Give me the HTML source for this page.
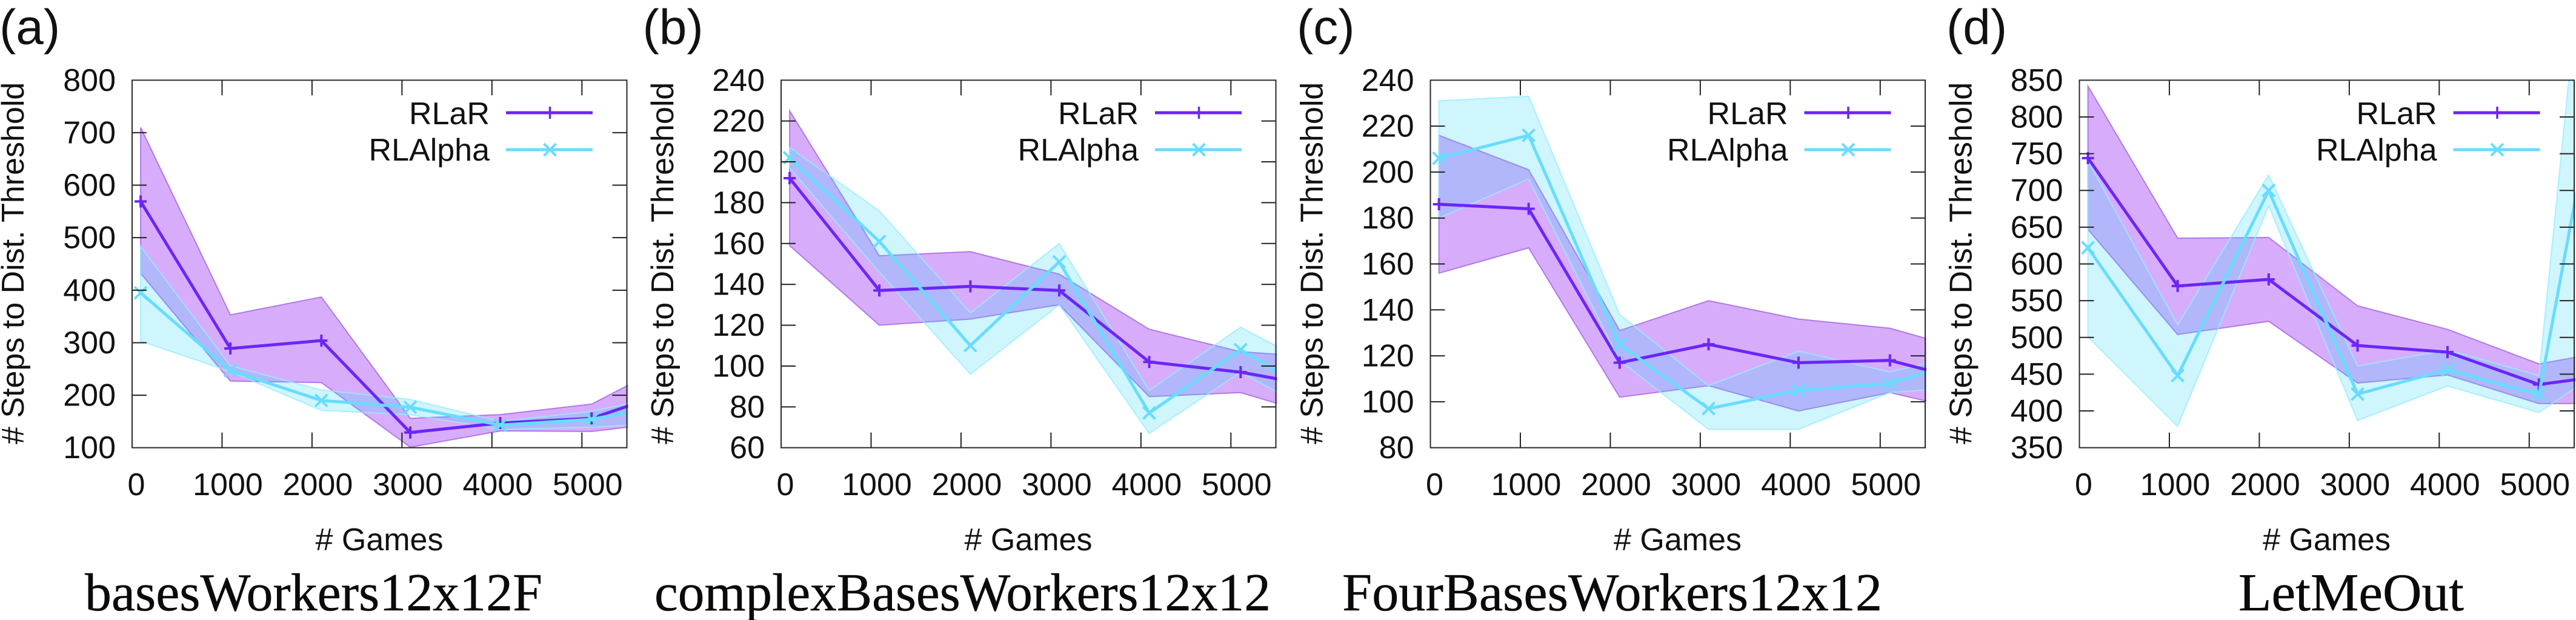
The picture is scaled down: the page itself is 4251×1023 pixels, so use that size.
<!DOCTYPE html>
<html lang="en">
<head>
<meta charset="utf-8">
<title>Steps to Distance Threshold vs Games</title>
<style>
html,body{margin:0;padding:0;background:#fff;}
svg{display:block;}
text{font-family:"Liberation Sans",sans-serif;font-size:52px;fill:#111;}
.panel-tag{font-size:82px;}
.caption{font-family:"Liberation Serif",serif;font-size:88px;fill:#0a0a0a;stroke:#0a0a0a;stroke-width:0.5px;}
</style>
</head>
<body>
<svg id="figure" xmlns="http://www.w3.org/2000/svg" width="4251" height="1023" viewBox="0 0 4251 1023">
  <rect width="4251" height="1023" fill="#fff"/>

  <g id="panel-a" transform="translate(218,132.3)">
    <text class="panel-tag" x="-219" y="-59.7">(a)</text>
    <text transform="translate(-179,600.7) rotate(-90)">#&#160;Steps to Dist. Threshold</text>
    <text x="408" y="775.7" text-anchor="middle">#&#160;Games</text>
    <text x="590" y="72.7" text-anchor="end">RLaR</text>
    <text x="590" y="132.7" text-anchor="end">RLAlpha</text>
  </g>
  <g id="panel-b" transform="translate(1289,132.3)">
    <text class="panel-tag" x="-228.5" y="-59.7">(b)</text>
    <text transform="translate(-178,600.7) rotate(-90)">#&#160;Steps to Dist. Threshold</text>
    <text x="408" y="775.7" text-anchor="middle">#&#160;Games</text>
    <text x="590" y="72.7" text-anchor="end">RLaR</text>
    <text x="590" y="132.7" text-anchor="end">RLAlpha</text>
  </g>
  <g id="panel-c" transform="translate(2360.5,132.3)">
    <text class="panel-tag" x="-220.5" y="-59.7">(c)</text>
    <text transform="translate(-178,600.7) rotate(-90)">#&#160;Steps to Dist. Threshold</text>
    <text x="408" y="775.7" text-anchor="middle">#&#160;Games</text>
    <text x="590" y="72.7" text-anchor="end">RLaR</text>
    <text x="590" y="132.7" text-anchor="end">RLAlpha</text>
  </g>
  <g id="panel-d" transform="translate(3431.5,132.3)">
    <text class="panel-tag" x="-219.5" y="-59.7">(d)</text>
    <text transform="translate(-178,600.7) rotate(-90)">#&#160;Steps to Dist. Threshold</text>
    <text x="408" y="775.7" text-anchor="middle">#&#160;Games</text>
    <text x="590" y="72.7" text-anchor="end">RLaR</text>
    <text x="590" y="132.7" text-anchor="end">RLAlpha</text>
  </g>

  <text class="caption" x="140" y="1007" textLength="755" lengthAdjust="spacingAndGlyphs">basesWorkers12x12F</text>
  <text class="caption" x="1080" y="1007" textLength="1017" lengthAdjust="spacingAndGlyphs">complexBasesWorkers12x12</text>
  <text class="caption" x="2215" y="1007" textLength="891" lengthAdjust="spacingAndGlyphs">FourBasesWorkers12x12</text>
  <text class="caption" x="3694" y="1007" textLength="372" lengthAdjust="spacingAndGlyphs">LetMeOut</text>
</svg>

<script>
// Shared x categories and ticks
const games = [95, 1092, 2104, 3092, 4092, 5108, 6100];
const xTicks = [0, 1000, 2000, 3000, 4000, 5000];
const xDomainMax = 5500;

// Panel (a)
const aYTicks = [100, 200, 300, 400, 500, 600, 700, 800];
const aRlarMean = [569, 289, 304, 129, 147, 156, 213];
const aRlarUpper = [710, 353, 387, 156, 163, 183, 271];
const aRlarLower = [432, 227, 224, 101, 132, 131, 151];
const aAlphaMean = [395, 247, 190, 177, 143, 154, 188];
const aAlphaUpper = [483, 256, 210, 192, 150, 169, 206];
const aAlphaLower = [303, 245, 171, 163, 135, 139, 149];

// Panel (b)
const bYTicks = [60, 80, 100, 120, 140, 160, 180, 200, 220, 240];
const bRlarMean = [192, 137, 139, 137, 102, 97, 89];
const bRlarUpper = [225, 154, 156, 145, 118, 107, 104];
const bRlarLower = [159, 120, 123, 130, 85, 87, 74];
const bAlphaMean = [202, 161, 110, 151, 77, 108, 82];
const bAlphaUpper = [207, 176, 126, 160, 88, 119, 96];
const bAlphaLower = [197, 146, 96, 130, 67, 97, 73];

// Panel (c)
const cYTicks = [80, 100, 120, 140, 160, 180, 200, 220, 240];
const cRlarMean = [186, 184, 117, 125, 117, 118, 108];
const cRlarUpper = [216, 201, 131, 144, 136, 132, 121];
const cRlarLower = [156, 167, 102, 107, 96, 104, 95];
const cAlphaMean = [206, 216, 125, 97, 105, 108, 120];
const cAlphaUpper = [231, 233, 138, 107, 122, 113, 122];
const cAlphaLower = [180, 197, 118, 88, 88, 104, 107];

// Panel (d)
const dYTicks = [350, 400, 450, 500, 550, 600, 650, 700, 750, 800, 850];
const dRlarMean = [744, 570, 579, 489, 480, 436, 452];
const dRlarUpper = [842, 635, 636, 543, 511, 464, 486];
const dRlarLower = [647, 504, 522, 438, 449, 410, 410];
const dAlphaMean = [622, 448, 700, 423, 456, 422, 1074];
const dAlphaUpper = [740, 517, 721, 461, 483, 448, 1650];
const dAlphaLower = [501, 379, 679, 387, 434, 398, 480];

const SVG_NS = 'http://www.w3.org/2000/svg';
const PLOT_W = 816.5;
const PLOT_H = 606.4;
const PURPLE = '#6c25f8';
const CYAN = '#68dcff';

function make(tag, parent, attrs) {
  const node = document.createElementNS(SVG_NS, tag);
  for (const k in attrs) node.setAttribute(k, attrs[k]);
  parent.appendChild(node);
  return node;
}

function xAxis(v) {
  return v / xDomainMax * PLOT_W;
}

function drawBand(layer, xs, upper, lower, yAxis, fill, edge, opacity, label) {
  const top = xs.map((x, i) => xAxis(x) + ',' + yAxis(upper[i]));
  const bottom = xs.map((x, i) => xAxis(x) + ',' + yAxis(lower[i])).reverse();
  const band = make('polygon', layer, {
    points: top.concat(bottom).join(' '),
    fill: fill, 'fill-opacity': opacity, stroke: edge, 'stroke-width': 2, 'stroke-opacity': 0.8
  });
  
  
}

function drawLine(layer, xs, values, yAxis, color, label) {
  const line = make('polyline', layer, {
    points: xs.map((x, i) => xAxis(x) + ',' + yAxis(values[i])).join(' '),
    fill: 'none', stroke: color, 'stroke-width': 5, 'stroke-linejoin': 'round'
  });
  
  
}

function markerPath(cx, cy, kind) {
  const r = 10;
  if (kind === 'plus') {
    return 'M' + (cx - r) + ' ' + cy + 'H' + (cx + r) + 'M' + cx + ' ' + (cy - r) + 'V' + (cy + r);
  }
  return 'M' + (cx - r) + ' ' + (cy - r) + 'L' + (cx + r) + ' ' + (cy + r) +
         'M' + (cx - r) + ' ' + (cy + r) + 'L' + (cx + r) + ' ' + (cy - r);
}

function drawMarkers(layer, xs, values, yAxis, color, kind, label) {
  xs.forEach((x, i) => {
    const mark = make('path', layer, {
      d: markerPath(xAxis(x), yAxis(values[i]), kind),
      fill: 'none', stroke: color, 'stroke-width': 4
    });
    
    
  });
}

function drawLegend(group, row, color, kind, label) {
  const y = row === 0 ? 53.7 : 114.7;
  const line = make('line', group, {
    x1: 617, x2: 760, y1: y, y2: y, stroke: color, 'stroke-width': 5
  });
  
  
  const mark = make('path', group, {
    d: markerPath(689.5, y, kind), fill: 'none', stroke: color, 'stroke-width': kind === 'plus' ? 3.5 : 4
  });
  
  
}

function drawPanel(id, yTicks, rMean, rUp, rLow, aMean, aUp, aLow) {
  const group = document.getElementById('panel-' + id);
  const yMin = yTicks[0];
  const yMax = yTicks[yTicks.length - 1];
  const yAxis = v => PLOT_H - (v - yMin) / (yMax - yMin) * PLOT_H;

  const defs = make('defs', group, {});
  const clip = make('clipPath', defs, { id: 'clip-' + id });
  make('rect', clip, { x: 0, y: 0, width: PLOT_W + 2, height: PLOT_H });

  const layer = make('g', group, { 'clip-path': 'url(#clip-' + id + ')' });
  
  

  drawBand(layer, games, rUp, rLow, yAxis, '#9b32f5', '#a460ea', 0.4, 'band-rlar-' + id);
  drawBand(layer, games, aUp, aLow, yAxis, '#40d8f8', '#98ecff', 0.25, 'band-rlalpha-' + id);
  drawLine(layer, games, rMean, yAxis, PURPLE, 'line-rlar-' + id);
  drawMarkers(layer, games, rMean, yAxis, PURPLE, 'plus', 'point-rlar-' + id);
  drawLine(layer, games, aMean, yAxis, CYAN, 'line-rlalpha-' + id);
  drawMarkers(layer, games, aMean, yAxis, CYAN, 'cross', 'point-rlalpha-' + id);

  yTicks.forEach(t => {
    const y = yAxis(t);
    if (t !== yMin && t !== yMax) {
      const tickL = make('line', group, { x1: 0, x2: 24, y1: y, y2: y, stroke: '#222', 'stroke-width': 2 });
      
      
      const tickR = make('line', group, { x1: PLOT_W - 24, x2: PLOT_W, y1: y, y2: y, stroke: '#222', 'stroke-width': 2 });
      
      
    }
    const label = make('text', group, { x: -27, y: y + 17.5, 'text-anchor': 'end' });
    label.textContent = String(t);
    
    
  });

  xTicks.forEach(t => {
    const x = xAxis(t);
    if (t !== 0) {
      const tickT = make('line', group, { x1: x, x2: x, y1: 0, y2: 25, stroke: '#222', 'stroke-width': 2 });
      
      
      const tickB = make('line', group, { x1: x, x2: x, y1: PLOT_H - 25, y2: PLOT_H, stroke: '#222', 'stroke-width': 2 });
      
      
    }
    const label = make('text', group, { x: x + (t === 0 ? 7 : 9.5), y: 684.5, 'text-anchor': 'middle' });
    label.textContent = String(t);
    
    
  });

  const frame = make('rect', group, { x: 0, y: 0, width: PLOT_W, height: PLOT_H, fill: 'none', stroke: '#2a2a2a', 'stroke-width': 2 });
  
  

  drawLegend(group, 0, PURPLE, 'plus', 'legend-rlar-' + id);
  drawLegend(group, 1, CYAN, 'cross', 'legend-rlalpha-' + id);
}

drawPanel('a', aYTicks, aRlarMean, aRlarUpper, aRlarLower, aAlphaMean, aAlphaUpper, aAlphaLower);
drawPanel('b', bYTicks, bRlarMean, bRlarUpper, bRlarLower, bAlphaMean, bAlphaUpper, bAlphaLower);
drawPanel('c', cYTicks, cRlarMean, cRlarUpper, cRlarLower, cAlphaMean, cAlphaUpper, cAlphaLower);
drawPanel('d', dYTicks, dRlarMean, dRlarUpper, dRlarLower, dAlphaMean, dAlphaUpper, dAlphaLower);
</script>
</body>
</html>
